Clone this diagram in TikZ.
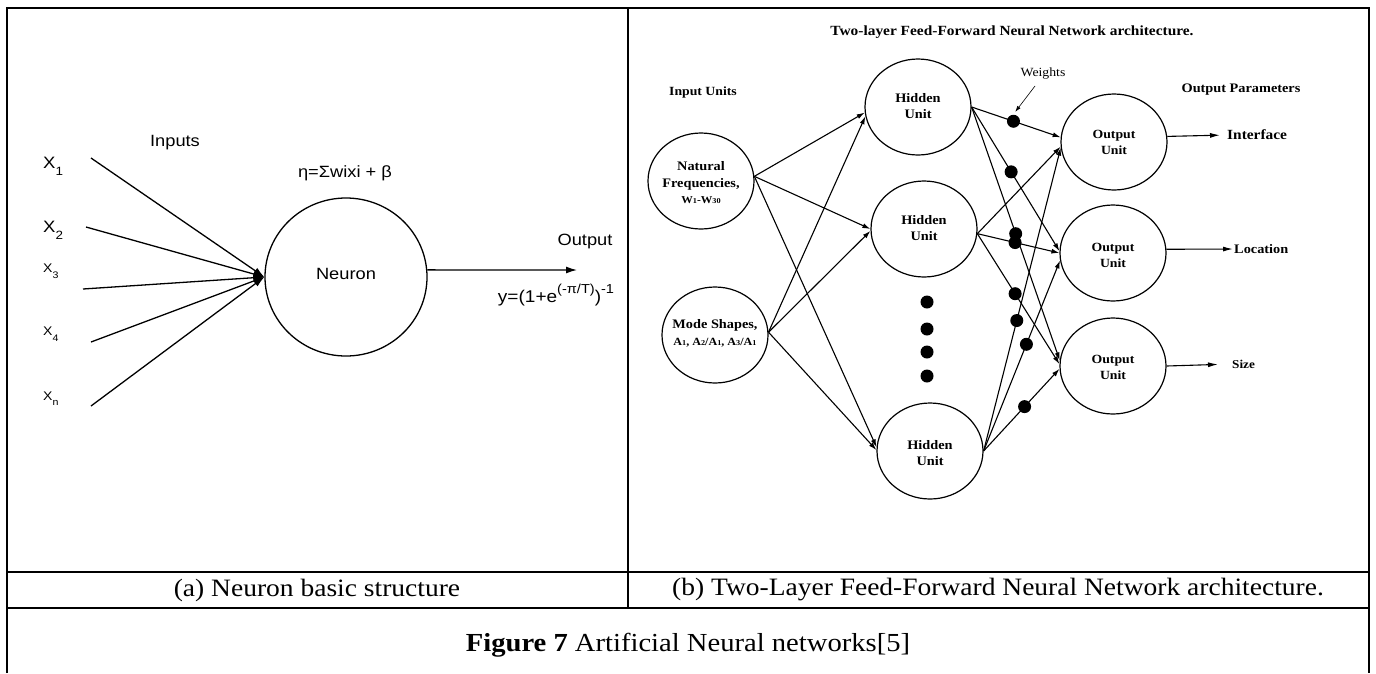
\documentclass[tikz,border=0pt]{standalone}
\usepackage{fontspec}
\usetikzlibrary{shapes.geometric,arrows.meta}
\newfontfamily\sansW[FakeStretch=1.12]{Liberation Sans}
\newfontfamily\serifW[FakeStretch=1.1]{Liberation Serif}
% X with a lowered index: size of X, size of index, drop, index
\newcommand\xin[4]{{\fontsize{#1}{#1}\selectfont X\raisebox{-#3}{\fontsize{#2}{#2}\selectfont #4}}}
% small figures inside the bold unit labels
\newcommand\smdig[1]{{\fontsize{7.5}{8}\selectfont #1}}
\newcommand\supsm[1]{\raisebox{0.5em}{\fontsize{13}{13}\selectfont #1}}
\begin{document}
\begin{tikzpicture}[x=1pt,y=-1pt,
  rule/.style={line width=1.8pt},
  inwire/.style={line width=1.3pt,-{Latex[length=11pt,width=7pt]}},
  nnwire/.style={line width=1.1pt,-{Latex[length=8pt,width=5pt]}},
  unit/.style={draw,ellipse,line width=1.2pt,inner sep=0pt,minimum width=106pt,minimum height=96pt},
  neuronshape/.style={draw,ellipse,line width=1.3pt,inner sep=0pt,minimum width=162pt,minimum height=158pt},
  wdot/.style={circle,fill,inner sep=0pt,minimum size=13pt},
  sanslbl/.style={font=\sansW\fontsize{16.3}{18}\selectfont,inner sep=0pt},
  xlbl/.style={font=\sansW,inner sep=0pt,anchor=base west},
  boldlbl/.style={font=\serifW\bfseries\fontsize{12.5}{16}\selectfont,inner sep=0pt,align=center},
  caplbl/.style={font=\serifW\fontsize{25}{28}\selectfont,inner sep=0pt}
]
\useasboundingbox (0,0) rectangle (1376,673);

% table rules
\draw[rule] (7,673) -- (7,8) -- (1369,8) -- (1369,673);
\draw[rule] (628,8) -- (628,608);
\draw[rule] (7,572) -- (1369,572);
\draw[rule] (7,608) -- (1369,608);

% ---------- (a) single neuron ----------
\node[neuronshape] (neuron) at (346,277) {};
\node[sanslbl] (neuronlbl) at (346,274) {Neuron};
\node[sanslbl] (inputs) at (175,143) {Inputs};
\node[sanslbl] (eta) at (345,173) {η=Σwixi + β};
\node[sanslbl] (outlbl) at (585,241) {Output};
\node[sanslbl,font=\sansW\fontsize{17}{18}\selectfont] (yfun) at (556,295) {y=(1+e\supsm{(-π/T)})\supsm{-1}};

\node[xlbl] (x1) at (43,168) {\xin{16.5}{12}{7pt}{1}};
\node[xlbl] (x2) at (43,232) {\xin{16.5}{12}{7pt}{2}};
\node[xlbl] (x3) at (43,272) {\xin{12.5}{9.5}{6pt}{3}};
\node[xlbl] (x4) at (43,335) {\xin{12.5}{9.5}{6pt}{4}};
\node[xlbl] (xn) at (43,400) {\xin{12.5}{9.5}{5pt}{n}};

\coordinate (s1) at (91,158);
\coordinate (s2) at (86,227);
\coordinate (s3) at (83,289);
\coordinate (s4) at (91,342);
\coordinate (sn) at (91,406);
\foreach \s in {s1,s2,s3,s4,sn} \draw[inwire] (\s) -- (neuron.west);
\coordinate (yend) at (577,270);
\draw[inwire] (neuron.5) -- (yend);

% ---------- (b) two-layer network ----------
\node[boldlbl,font=\serifW\bfseries\fontsize{14}{16}\selectfont] (title) at (1012,32)
  {Two-layer Feed-Forward Neural Network architecture.};
\node[boldlbl] (inunits) at (703,92) {Input Units};
\node[boldlbl,font=\serifW\bfseries\fontsize{13}{16}\selectfont] (outpar) at (1241,90) {Output Parameters};

% input units
\node[unit] (in1) at (701,181) {};
\node[boldlbl,font=\serifW\bfseries\fontsize{13}{16.5}\selectfont] (in1t) at (701,183)
  {Natural\\Frequencies,\\{\fontsize{10.5}{12}\selectfont W\smdig{1}-W\smdig{30}}};
\node[unit] (in2) at (715,335) {};
\node[boldlbl,font=\serifW\bfseries\fontsize{13}{17}\selectfont] (in2t) at (715,333)
  {Mode Shapes,\\{\fontsize{11}{12}\selectfont A\smdig{1}, A\smdig{2}/A\smdig{1}, A\smdig{3}/A\smdig{1}}};

% hidden units
\node[unit] (h1) at (918,107) {};
\node[boldlbl,font=\serifW\bfseries\fontsize{13}{16}\selectfont] (h1t) at (918,106) {Hidden\\Unit};
\node[unit] (h2) at (924,229) {};
\node[boldlbl,font=\serifW\bfseries\fontsize{13}{16}\selectfont] (h2t) at (924,228) {Hidden\\Unit};
\node[unit] (h3) at (930,451) {};
\node[boldlbl,font=\serifW\bfseries\fontsize{13}{16}\selectfont] (h3t) at (930,453) {Hidden\\Unit};
\node[wdot] (hd1) at (927,302) {};
\node[wdot] (hd2) at (927,329) {};
\node[wdot] (hd3) at (927,352) {};
\node[wdot] (hd4) at (927,376) {};

% output units
\node[unit] (o1) at (1114,142) {};
\node[boldlbl] (o1t) at (1114,142) {Output\\Unit};
\node[unit] (o2) at (1113,253) {};
\node[boldlbl] (o2t) at (1113,255) {Output\\Unit};
\node[unit] (o3) at (1113,366) {};
\node[boldlbl] (o3t) at (1113,367) {Output\\Unit};

% input -> hidden
\draw[nnwire] (in1.5) -- (h1.186);
\draw[nnwire] (in2.3) -- (h1.190);
\draw[nnwire] (in1.5) -- (h2.180);
\draw[nnwire] (in2.3) -- (h2.182);
\draw[nnwire] (in1.5) -- (h3.176);
\draw[nnwire] (in2.3) -- (h3.179);

% hidden -> output, with weight dots
\draw[nnwire] (h1.east) -- node[wdot,pos=0.47] (w11) {} (o1.175);
\draw[nnwire] (h1.east) -- node[wdot,pos=0.45] (w12) {} (o2.178);
\draw[nnwire] (h1.east) -- node[wdot,pos=0.5] (w13) {} (o3.174);
\draw[nnwire] (h2.355) -- (o1.185);
\draw[nnwire] (h2.355) -- node[wdot,pos=0.46] (w22) {} (o2.180);
\draw[nnwire] (h2.355) -- node[wdot,pos=0.46] (w23) {} (o3.178);
\draw[nnwire] (h3.east) -- node[wdot,pos=0.43] (w31) {} (o1.186);
\draw[nnwire] (h3.east) -- node[wdot,pos=0.56] (w32) {} (o2.188);
\draw[nnwire] (h3.east) -- node[wdot,pos=0.54] (w33) {} (o3.183);

% weights callout
\node[font=\serifW\fontsize{12.5}{15}\selectfont,inner sep=0pt] (wlbl) at (1043,74) {Weights};
\coordinate (wtail) at (1035,86);
\draw[line width=0.6pt,-{Latex[length=6pt,width=4pt]},shorten >=3pt] (wtail) -- (w11.north);

% output parameters
\node[boldlbl,font=\serifW\bfseries\fontsize{14}{16}\selectfont,anchor=west] (ifc) at (1227,135) {Interface};
\node[boldlbl,font=\serifW\bfseries\fontsize{13}{16}\selectfont,anchor=west] (loc) at (1234,249) {Location};
\node[boldlbl,font=\serifW\bfseries\fontsize{12}{16}\selectfont,anchor=west] (size) at (1232,364) {Size};
\draw[nnwire,-{Latex[length=10pt,width=5pt]},shorten >=7pt] (o1.6) -- (ifc.west);
\draw[nnwire,-{Latex[length=10pt,width=5pt]},shorten >=1pt] (o2.4) -- (loc.west);
\draw[nnwire,-{Latex[length=10pt,width=5pt]},shorten >=14pt] (o3.0) -- (size.west);

% ---------- captions ----------
\node[caplbl] (capa) at (317,590) {(a) Neuron basic structure};
\node[caplbl] (capb) at (998,590) {(b) Two-Layer Feed-Forward Neural Network architecture.};
\node[caplbl,font=\serifW\fontsize{26}{28}\selectfont] (fig) at (688,645) {\textbf{Figure 7} Artificial Neural networks[5]};
\end{tikzpicture}
\end{document}
